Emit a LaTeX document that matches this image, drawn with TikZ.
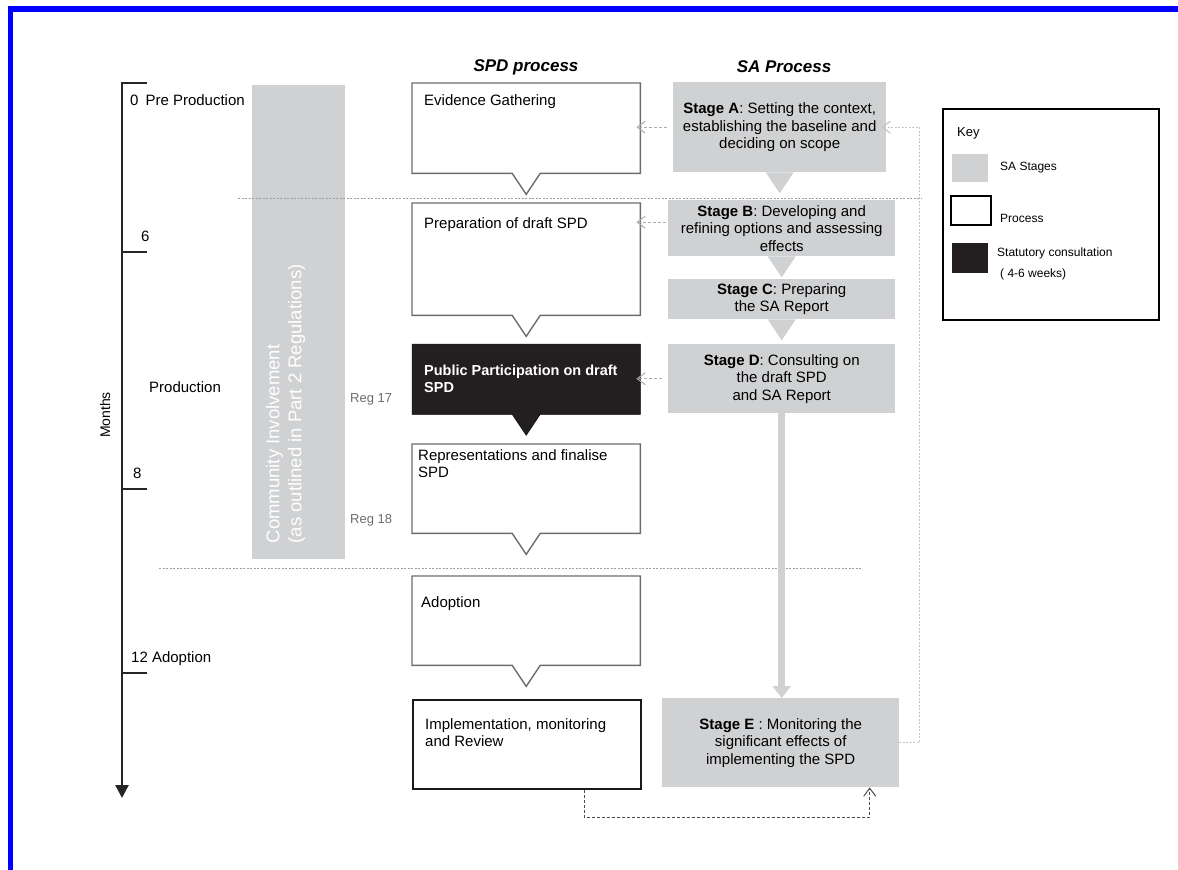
\documentclass[tikz,border=0pt]{standalone}
\usepackage{fontspec}
\setmainfont{Liberation Sans}
\usepackage{xcolor}
\usetikzlibrary{arrows.meta}
\definecolor{sa-grey}{RGB}{208,209,211}
\definecolor{stat-black}{RGB}{35,31,32}
\newcommand{\calloutline}[2]{%
    \draw[#1] (#2.north west) -- (#2.north east) -- (#2.south east)
        -- ([xshift=14pt]#2.south) -- ([yshift=-21pt]#2.south)
        -- ([xshift=-14pt]#2.south) -- (#2.south west) -- cycle;}
\newcommand{\sapointer}[1]{%
    \fill[sa-grey] ([xshift=-14pt]#1.south) -- ([yshift=-21pt]#1.south)
        -- ([xshift=14pt]#1.south) -- cycle;}
\tikzset{
    spd-box/.style = {rectangle, anchor=north west, inner sep=0pt, minimum width=228pt},
    spd-line/.style = {draw=gray!85!black, line width=1.4pt, line join=miter},
    spd-text/.style = {anchor=north west, inner sep=0pt, align=left, font=\fontsize{15}{17}\selectfont},
    sa-box/.style = {rectangle, fill=sa-grey, anchor=north west, inner sep=0pt, align=center, font=\fontsize{15}{17.5}\selectfont},
    col-heading/.style = {font=\fontsize{17}{20}\selectfont\bfseries\itshape},
    side-text/.style = {anchor=west, inner sep=0pt, font=\fontsize{15}{17}\selectfont},
    reg-text/.style = {anchor=west, inner sep=0pt, text=gray!85!black, font=\fontsize{13}{15}\selectfont},
    key-text/.style = {anchor=west, inner sep=0pt, align=left, font=\fontsize{12}{21}\selectfont},
    swatch/.style = {rectangle, anchor=north west, inner sep=0pt},
    axis-line/.style = {line width=2.6pt, black!85},
    stage-divider/.style = {gray!75, line width=1pt, dash pattern=on 2pt off 1.5pt},
    sa-link/.style = {gray!65, line width=1pt, dash pattern=on 3pt off 2pt, -{Straight Barb[length=8pt,width=12pt]}},
    loop-link/.style = {gray!45, line width=1.2pt, dash pattern=on 2pt off 1.5pt, -{Straight Barb[length=8pt,width=12pt]}},
    return-link/.style = {gray!60!black, line width=1pt, dash pattern=on 3pt off 2pt, -{Straight Barb[length=8pt,width=12pt]}},
    sa-flow/.style = {sa-grey, line width=7pt, -{Triangle[width=18pt,length=12pt]}},
}

\begin{document}
\begin{tikzpicture}[x=1pt, y=-1pt]
\useasboundingbox (0,0) rectangle (1178,870);
% page frame
\draw[blue, line width=5.5pt] (10.5,870) -- (10.5,9) -- (1178,9);

% months axis
\draw[axis-line, line join=miter, -{Triangle[width=13pt,length=13pt]}] (147,83) -- (122,83) -- (122,798);
\draw[axis-line] (122,252) -- (147,252);
\draw[axis-line] (122,489) -- (147,489);
\draw[axis-line, line width=1.6pt] (122,673) -- (147,673);
\node[rotate=90, font=\fontsize{14}{16}\selectfont] at (105,415) {Months};
\node[side-text] at (130,100) {0\hspace{7pt}Pre Production};
\node[side-text] at (141,236) {6};
\node[side-text] at (149,387) {Production};
\node[side-text] at (133,473) {8};
\node[side-text] at (131,659) {12 Adoption};

% community involvement bar
\node[swatch, fill=sa-grey, minimum width=93pt, minimum height=474pt] (community) at (252,85) {};
\node[rotate=90, anchor=west, inner sep=0pt, align=left, text=white, font=\fontsize{18.5}{22}\selectfont]
    at ([xshift=-13pt,yshift=16pt]community.south) {Community Involvement\\(as outlined in Part 2 Regulations)};
\node[reg-text] at (350,399) {Reg 17};
\node[reg-text] at (350,520) {Reg 18};

% stage dividers
\draw[stage-divider] (238,198) -- (921,198);
\draw[stage-divider] (159,568) -- (862,568);

% SPD process
\node[col-heading] at (526,67) {SPD process};
\node[spd-box, minimum height=90pt] (evidence) at (412,83) {};
\calloutline{spd-line}{evidence}
\node[spd-text] at ([xshift=12pt,yshift=-11.5pt]evidence.north west) {Evidence Gathering};

\node[spd-box, minimum height=112pt] (preparation) at (412,203) {};
\calloutline{spd-line}{preparation}
\node[spd-text] at ([xshift=12pt,yshift=-14.5pt]preparation.north west) {Preparation of draft SPD};

\node[spd-box, minimum height=70pt] (participation) at (412,344) {};
\calloutline{fill=stat-black}{participation}
\node[spd-text, text=white, font=\fontsize{14.5}{17}\selectfont\bfseries]
    at ([xshift=12pt,yshift=-20.5pt]participation.north west) {Public Participation on draft\\SPD};

\node[spd-box, minimum height=89pt] (representations) at (412,444) {};
\calloutline{spd-line}{representations}
\node[spd-text] at ([xshift=6pt,yshift=-5.5pt]representations.north west) {Representations and finalise\\SPD};

\node[spd-box, minimum height=89pt] (adoption) at (412,576) {};
\calloutline{spd-line}{adoption}
\node[spd-text] at ([xshift=9pt,yshift=-20.5pt]adoption.north west) {Adoption};

\node[spd-box, draw=black!90, line width=2pt, minimum height=89pt] (implementation) at (412,699) {};
\node[spd-text] at ([xshift=13pt,yshift=-19.5pt]implementation.north west) {Implementation, monitoring\\and Review};

% SA process
\node[col-heading] at (784,67) {SA Process};
\node[sa-box, minimum width=213pt, minimum height=90pt] (stageA) at (673,82)
    {\textbf{Stage A}: Setting the context,\\establishing the baseline and\\deciding on scope};
\sapointer{stageA}
\node[sa-box, minimum width=227pt, minimum height=56pt] (stageB) at (668,200)
    {\textbf{Stage B}: Developing and\\refining options and assessing\\effects};
\sapointer{stageB}
\node[sa-box, minimum width=227pt, minimum height=40pt] (stageC) at (668,279)
    {\textbf{Stage C}: Preparing\\the SA Report};
\sapointer{stageC}
\node[sa-box, minimum width=227pt, minimum height=69pt] (stageD) at (668,344)
    {\textbf{Stage D}: Consulting on\\the draft SPD\\and SA Report};
\node[sa-box, minimum width=237pt, minimum height=89pt] (stageE) at (662,698)
    {\textbf{Stage E} : Monitoring the\\significant effects of\\implementing the SPD};

% links between the two processes
\draw[sa-link, shorten <=6pt, shorten >=-4pt] (stageA.west) -- (stageA.west -| evidence.east);
\draw[sa-link, shorten <=2pt, shorten >=-4pt] ([yshift=6pt]stageB.west) -- ([yshift=6pt]stageB.west -| preparation.east);
\draw[sa-link, shorten <=6pt, shorten >=-4pt] (stageD.west) -- (stageD.west -| participation.east);
\draw[sa-flow] (stageD.south) -- (stageD.south |- stageE.north);
\draw[loop-link, shorten >=-5pt] (stageE.east) -- ++(20,0) |- (stageA.east);
\draw[return-link] ([xshift=57pt]implementation.south) -- ++(0,27) -| ([xshift=89pt]stageE.south);

% key
\node[swatch, draw=black, line width=1.5pt, minimum width=216pt, minimum height=211pt] (key) at (942,108) {};
\node[key-text, font=\fontsize{13}{15}\selectfont] at (957,133) {Key};
\node[swatch, fill=sa-grey, minimum width=36pt, minimum height=28pt] (key-sa) at (952,154) {};
\node[key-text] at (1000,168) {SA Stages};
\node[swatch, draw=black, line width=1.5pt, minimum width=40pt, minimum height=29pt] (key-process) at (950,195) {};
\node[key-text] at (1000,218) {Process};
\node[swatch, fill=stat-black, minimum width=36pt, minimum height=30pt] (key-stat) at (952,243) {};
\node[key-text, anchor=north west] at (997,248) {Statutory consultation\\\hspace{3pt}( 4-6 weeks)};
\end{tikzpicture}
\end{document}
